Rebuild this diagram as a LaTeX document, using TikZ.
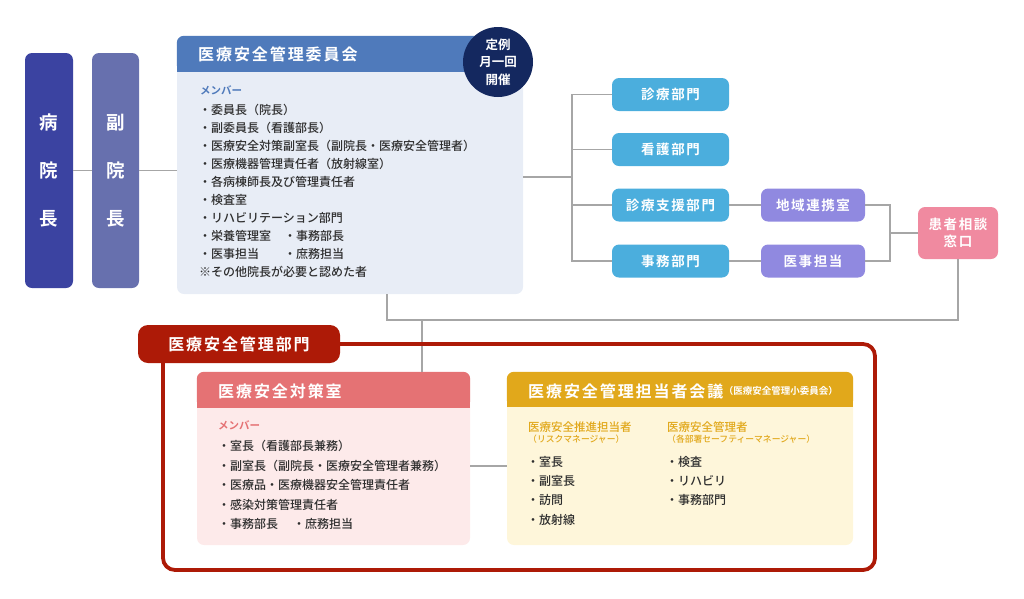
\documentclass[tikz,border=0pt]{standalone}
\usepackage{fontspec}
\setmainfont{Noto Sans CJK JP}[UprightFont=* Medium, BoldFont=* Bold]
\newfontfamily\widefont{Noto Sans CJK JP}[UprightFont=* Medium, BoldFont=* Bold, LetterSpace=12]
\usetikzlibrary{positioning}

\definecolor{chiefblue}{HTML}{3B43A1}
\definecolor{vicechief}{HTML}{6770AE}
\definecolor{iinkaihead}{HTML}{4F7ABB}
\definecolor{iinkaibody}{HTML}{E8EDF6}
\definecolor{teireinavy}{HTML}{14285F}
\definecolor{deptblue}{HTML}{4BAEDD}
\definecolor{renkeiviolet}{HTML}{9089E0}
\definecolor{kanjapink}{HTML}{F08AA0}
\definecolor{bumonred}{HTML}{AD1A07}
\definecolor{taisakuhead}{HTML}{E57274}
\definecolor{taisakubody}{HTML}{FDEAEA}
\definecolor{kaigihead}{HTML}{E1A81B}
\definecolor{kaigibody}{HTML}{FEF6DA}
\definecolor{linegray}{HTML}{A6A6A6}
\definecolor{textgray}{HTML}{2E2E2E}

\tikzset{
  link/.style={draw=linegray, line width=1.3pt},
  chief/.style={rounded corners=7pt, minimum width=48pt, minimum height=235pt, inner sep=0pt,
    text=white, align=center, font=\fontsize{18.5}{48}\selectfont\bfseries},
  panel/.style={rounded corners=7pt, inner sep=0pt},
  dept/.style={rounded corners=7pt, minimum width=117pt, minimum height=33pt, inner sep=0pt,
    text=white, align=center, font=\widefont\fontsize{13.5}{17}\selectfont\bfseries},
  title/.style={anchor=west, inner sep=0pt, text=white, font=\widefont\fontsize{16}{18}\selectfont\bfseries},
  member/.style={anchor=west, inner sep=0pt, font=\fontsize{10.5}{12}\selectfont\bfseries},
  list/.style={anchor=north west, inner sep=0pt, align=left, text=textgray},
}

\begin{document}
\begin{tikzpicture}[x=1pt, y=-1pt]
  \useasboundingbox (0,0) rectangle (1024,598);

  % 病院長・副院長
  \node (byoincho) at (49,170.5) [chief, fill=chiefblue] {病\\院\\長};
  \node (fukuincho) at (115.5,170.5) [chief, fill=vicechief, minimum width=47pt] {副\\院\\長};

  % 医療安全管理委員会
  \node (iinkai) at (350,165) [panel, fill=iinkaibody, minimum width=346pt, minimum height=258pt] {};
  \fill[iinkaihead, rounded corners=7pt] (iinkai.north west) rectangle ([yshift=-36pt]iinkai.north east);
  \fill[iinkaihead] ([yshift=-20pt]iinkai.north west) rectangle ([yshift=-36pt]iinkai.north east);
  \node (iinkaititle) at (198,54) [title] {医療安全管理委員会};
  \node (iinkaimember) at (200,90) [member, text=iinkaihead] {メンバー};
  \node (iinkailist) at (199,104) [list, font=\fontsize{12}{18}\selectfont]
    {・委員長（院長）\\
     ・副委員長（看護部長）\\
     ・医療安全対策副室長（副院長・医療安全管理者）\\
     ・医療機器管理責任者（放射線室）\\
     ・各病棟師長及び管理責任者\\
     ・検査室\\
     ・リハビリテーション部門\\
     \makebox[85pt][l]{・栄養管理室}・事務部長\\
     \makebox[85pt][l]{・医事担当}・庶務担当\\
     ※その他院長が必要と認めた者};
  \node (teirei) at (498,62) [circle, fill=teireinavy, minimum size=70pt, inner sep=0pt,
    text=white, align=center, font=\fontsize{12.5}{17.5}\selectfont\bfseries] {定例\\月一回\\開催};

  % 部門
  \node (shinryo) at (670.5,94.5) [dept, fill=deptblue] {診療部門};
  \node (kango) at (670.5,149.5) [dept, fill=deptblue] {看護部門};
  \node (shien) at (670.5,205) [dept, fill=deptblue] {診療支援部門};
  \node (jimu) at (670.5,261) [dept, fill=deptblue] {事務部門};
  \node (renkei) at (813,205) [dept, fill=renkeiviolet, minimum width=104pt] {地域連携室};
  \node (iji) at (813,261) [dept, fill=renkeiviolet, minimum width=104pt] {医事担当};
  \node (kanja) at (958,233) [dept, fill=kanjapink, minimum width=80pt, minimum height=52pt] {患者相談\\窓口};

  % 医療安全対策室
  \node (taisaku) at (333.5,458.5) [panel, fill=taisakubody, minimum width=273pt, minimum height=173pt] {};
  \fill[taisakuhead, rounded corners=7pt] (taisaku.north west) rectangle ([yshift=-36pt]taisaku.north east);
  \fill[taisakuhead] ([yshift=-20pt]taisaku.north west) rectangle ([yshift=-36pt]taisaku.north east);
  \node (taisakutitle) at (218,391) [title] {医療安全対策室};
  \node (taisakumember) at (218,425) [member, text=taisakuhead] {メンバー};
  \node (taisakulist) at (218,440) [list, font=\fontsize{12}{19.5}\selectfont]
    {・室長（看護部長兼務）\\
     ・副室長（副院長・医療安全管理者兼務）\\
     ・医療品・医療機器安全管理責任者\\
     ・感染対策管理責任者\\
     \makebox[75pt][l]{・事務部長}・庶務担当};

  % 医療安全管理担当者会議
  \node (kaigi) at (680,458.5) [panel, fill=kaigibody, minimum width=346pt, minimum height=173pt] {};
  \fill[kaigihead, rounded corners=7pt] (kaigi.north west) rectangle ([yshift=-35pt]kaigi.north east);
  \fill[kaigihead] ([yshift=-20pt]kaigi.north west) rectangle ([yshift=-35pt]kaigi.north east);
  \node (kaigititle) at (528,391) [title] {医療安全管理担当者会議};
  \node (kaigisub) [right=0pt of kaigititle.east, anchor=west, inner sep=0pt, text=white,
    font=\fontsize{9.5}{10}\selectfont\bfseries] {（医療安全管理小委員会）};
  \node (suishin) at (528,427) [member, text=kaigihead, font=\fontsize{11.5}{12}\selectfont] {医療安全推進担当者};
  \node (suishinsub) at (528,439) [member, text=kaigihead, font=\fontsize{8.8}{10}\selectfont] {（リスクマネージャー）};
  \node (suishinlist) at (527,456) [list, font=\fontsize{12}{19.3}\selectfont]
    {・室長\\
     ・副室長\\
     ・訪問\\
     ・放射線};
  \node (kanrisha) at (667,427) [member, text=kaigihead, font=\fontsize{11.5}{12}\selectfont] {医療安全管理者};
  \node (kanrishasub) at (667,439) [member, text=kaigihead, font=\fontsize{8.8}{10}\selectfont] {（各部署セーフティーマネージャー）};
  \node (kanrishalist) at (666,456) [list, font=\fontsize{12}{19.3}\selectfont]
    {・検査\\
     ・リハビリ\\
     ・事務部門};

  % 接続線
  \coordinate (bus) at (572,177);
  \coordinate (kanjabr) at (890,233);
  \coordinate (modori) at (387,320);
  \coordinate (oroshi) at (422,320);
  \coordinate (waku) at (163,570);
  \draw[link] (byoincho) -- (fukuincho);
  \draw[link] (fukuincho.east) -- (fukuincho.east -| iinkai.west);
  \draw[link] (iinkai.east |- bus) -- (bus);
  \draw[link] (shinryo.west) -| (bus) |- (jimu.west);
  \draw[link] (kango.west) -- (kango.west -| bus);
  \draw[link] (shien.west) -- (shien.west -| bus);
  \draw[link] (shien) -- (renkei);
  \draw[link] (jimu) -- (iji);
  \draw[link] (renkei.east) -| (kanjabr) |- (iji.east);
  \draw[link] (kanjabr) -- (kanja.west);
  \draw[link] (kanja.south) |- (modori) -- (modori |- iinkai.south);
  \draw[link] (oroshi) -- (oroshi |- taisaku.north);
  \draw[link] ([yshift=-7.5pt]taisaku.east) -- ([yshift=-7.5pt]taisaku.east -| kaigi.west);

  % 医療安全管理部門
  \node (bumon) at (239,344) [panel, rounded corners=10pt, fill=bumonred, minimum width=202pt, minimum height=38pt] {};
  \node (bumontitle) at (bumon) [title, anchor=center] {医療安全管理部門};
  \draw[bumonred, line width=3.8pt, rounded corners=12pt]
    (bumon.east) -- (875,344) -- (875,570) -- (waku) -- (waku |- bumon.south);
\end{tikzpicture}
\end{document}
